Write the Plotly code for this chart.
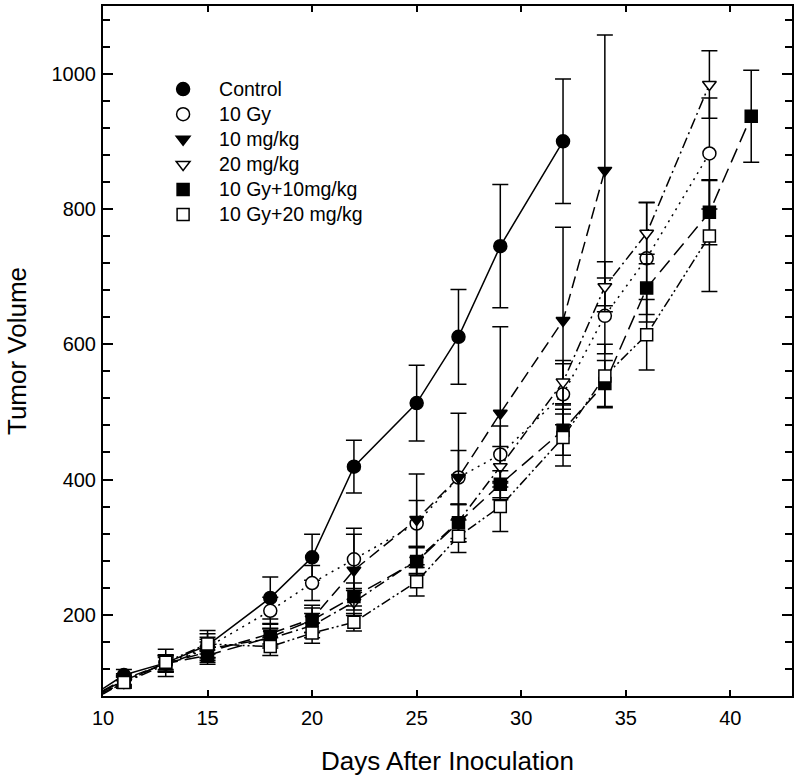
import plotly.graph_objects as go

# ---- data ----
names = ["Control", "10 Gy", "10 mg/kg", "20 mg/kg", "10 Gy+10mg/kg", "10 Gy+20 mg/kg"]

days_control = [11, 13, 15, 18, 20, 22, 25, 27, 29, 32]
vol_control = [111, 129, 155, 225, 285, 419, 513, 611, 745, 900]
err_control = [8, 20, 22, 31, 34, 39, 56, 70, 91, 92]

days_10gy = [11, 13, 15, 18, 20, 22, 25, 27, 29, 32, 34, 36, 39]
vol_10gy = [102, 128, 152, 206, 247, 282, 335, 403, 437, 526, 642, 727, 882]
err_10gy = [8, 12, 15, 20, 26, 46, 34, 40, 42, 45, 56, 83, 82]

days_10mg = [11, 13, 15, 18, 20, 22, 25, 27, 29, 32, 34]
vol_10mg = [105, 128, 145, 172, 194, 266, 341, 403, 498, 635, 857]
err_10mg = [8, 12, 15, 15, 20, 53, 67, 95, 128, 138, 200]

days_20mg = [11, 13, 15, 18, 20, 22, 25, 27, 29, 32, 34, 36, 39]
vol_20mg = [100, 126, 150, 165, 184, 219, 281, 338, 419, 544, 685, 764, 984]
err_20mg = [8, 11, 14, 14, 18, 20, 20, 25, 30, 32, 37, 45, 50]

days_gy10 = [11, 13, 15, 18, 20, 22, 25, 27, 29, 32, 34, 36, 39, 41]
vol_gy10 = [103, 128, 140, 167, 192, 227, 279, 336, 393, 473, 542, 683, 795, 937]
err_gy10 = [8, 11, 13, 13, 18, 20, 20, 28, 20, 37, 34, 50, 48, 68]

days_gy20 = [11, 13, 15, 18, 20, 22, 25, 27, 29, 32, 34, 36, 39]
vol_gy20 = [100, 130, 157, 153, 173, 189, 249, 316, 360, 462, 553, 614, 760]
err_gy20 = [8, 11, 15, 13, 15, 13, 21, 24, 37, 42, 47, 52, 82]

# where each curve meets the left axis (day 10)
start_day = 10
start_vol = [91, 86, 88, 85, 87, 83]

x_ticks = [10, 15, 20, 25, 30, 35, 40]
y_ticks = [200, 400, 600, 800, 1000]

series = [
    (days_control, vol_control, err_control, "circle", True, "solid"),
    (days_10gy, vol_10gy, err_10gy, "circle", False, "2px,5px"),
    (days_10mg, vol_10mg, err_10mg, "triangle-down", True, "12px,6px"),
    (days_20mg, vol_20mg, err_20mg, "triangle-down", False, "11px,4px,2px,4px"),
    (days_gy10, vol_gy10, err_gy10, "square", True, "15px,7px"),
    (days_gy20, vol_gy20, err_gy20, "square", False, "10px,3px,2px,3px,2px,3px"),
]
sizes = {"circle": 13, "triangle-down": 12, "square": 12}

fig = go.Figure()
for i, (dx, vy, ev, sym, filled, dash) in enumerate(series):
    fig.add_trace(go.Scatter(
        x=[start_day] + dx, y=[start_vol[i]] + vy, mode="lines",
        line=dict(color="black", width=1.5, dash=dash),
        showlegend=False, hoverinfo="skip",
    ))
for i, (dx, vy, ev, sym, filled, dash) in enumerate(series):
    fig.add_trace(go.Scatter(
        x=dx, y=vy, mode="markers",
        name='<span style="font-size:19.5px">' + names[i] + "</span>",
        marker=dict(symbol=sym, size=sizes[sym],
                    color="black" if filled else "white",
                    line=dict(color="black", width=1.5)),
        error_y=dict(type="data", array=ev, visible=True, color="black",
                     thickness=1.5, width=8),
    ))

font_family = "Liberation Sans, Arial, sans-serif"
fig.update_layout(
    width=800, height=782,
    margin=dict(l=103, r=8, t=6, b=86),
    paper_bgcolor="white", plot_bgcolor="white",
    font=dict(family=font_family, color="black", size=20),
    legend=dict(x=0.064, y=0.905, xanchor="left", yanchor="top",
                font=dict(size=17, family=font_family, color="black"),
                bgcolor="rgba(0,0,0,0)", itemwidth=62, borderwidth=0),
    showlegend=True,
)
fig.update_xaxes(
    range=[10, 42.95], tickvals=x_ticks, ticktext=[str(v) for v in x_ticks],
    ticks="inside", ticklen=6, tickwidth=1.5, tickcolor="black",
    showline=True, linecolor="black", linewidth=2, mirror="ticks",
    showgrid=False, zeroline=False, automargin=False, ticklabelstandoff=3,
    tickfont=dict(size=20, family=font_family, color="black"),
    title=dict(text="Days After Inoculation", font=dict(size=26, family=font_family, color="black"), standoff=24),
)
fig.update_yaxes(
    range=[80, 1100], tickvals=y_ticks, ticktext=[str(v) for v in y_ticks],
    ticks="inside", ticklen=10, tickwidth=1.5, tickcolor="black",
    minor=dict(tick0=0, dtick=40, ticks="inside", ticklen=7, tickwidth=1.5, tickcolor="black", showgrid=False),
    showline=True, linecolor="black", linewidth=2, mirror="ticks",
    showgrid=False, zeroline=False, automargin=False, ticklabelstandoff=1,
    tickfont=dict(size=20, family=font_family, color="black"),
    title=dict(text="Tumor Volume", font=dict(size=26, family=font_family, color="black"), standoff=17),
)

fig.write_html("out.html", config={"displayModeBar": False},
               post_script="document.body.style.margin='0';")
